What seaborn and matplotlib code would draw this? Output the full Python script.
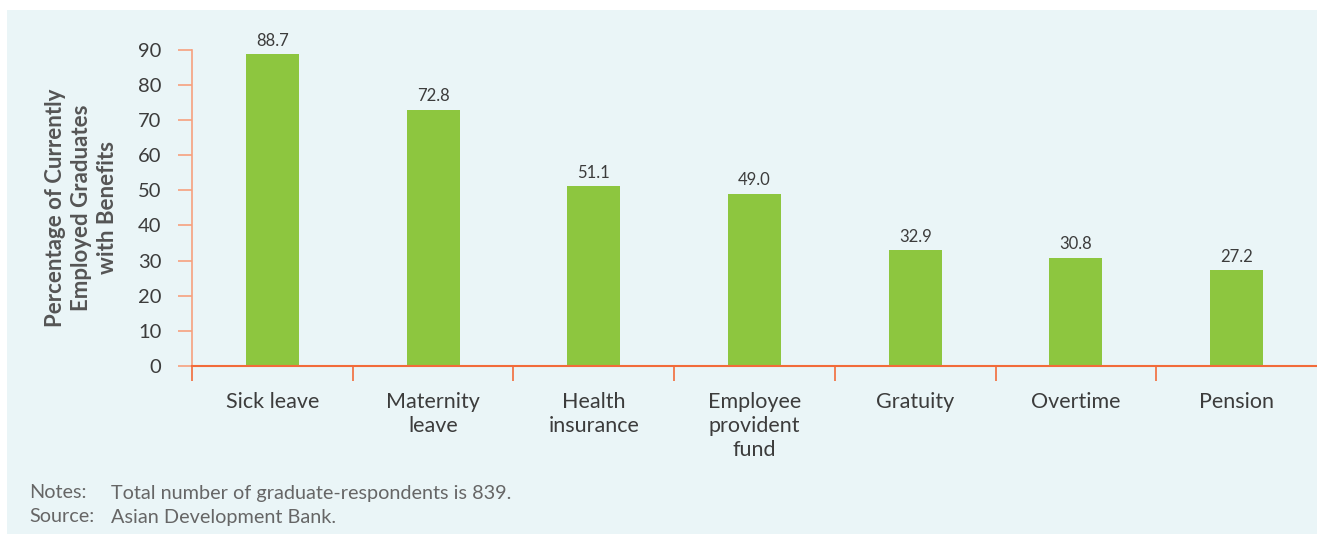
import matplotlib
matplotlib.use('Agg')
import matplotlib.pyplot as plt
import seaborn as sns
import pandas as pd
from matplotlib.patches import Rectangle
from matplotlib.ticker import FixedLocator

# data
benefits = ['Sick leave', 'Maternity\nleave', 'Health\ninsurance', 'Employee\nprovident\nfund',
            'Gratuity', 'Overtime', 'Pension']
pct = [88.7, 72.8, 51.1, 49.0, 32.9, 30.8, 27.2]
yticks = [0, 10, 20, 30, 40, 50, 60, 70, 80, 90]

df = pd.DataFrame({'Benefit': benefits, 'Percent': pct})

sns.set_style('white')
plt.rcParams['font.family'] = ['Lato', 'DejaVu Sans']

panel_col = '#EAF5F7'
text_col = '#3C3C3C'

fig = plt.figure(figsize=(13.17, 5.34), dpi=100)
fig.patches.append(Rectangle((7 / 1317, 0), 1, 1 - 10 / 534, transform=fig.transFigure,
                             facecolor=panel_col, edgecolor='none', zorder=-5))

ax = fig.add_axes([192 / 1317, 1 - 366 / 534, 1 - 192 / 1317, (366 - 49.5) / 534])
ax.set_facecolor('none')
sns.barplot(data=df, x='Benefit', y='Percent', color='#8DC63F', width=0.33,
            saturation=1, linewidth=0, edgecolor='none', ax=ax)

for c in ax.containers:
    ax.bar_label(c, labels=['%.1f' % v for v in pct], padding=4, fontsize=12, color=text_col)

ax.set_ylim(0, 90)
ax.set_xlim(-0.5, 6.5)
ax.set_yticks(yticks)
ax.tick_params(axis='y', left=True, length=10, width=1.2, color='#F7A07E', pad=12,
               labelsize=14.5, labelcolor=text_col)
ax.xaxis.set_minor_locator(FixedLocator([i - 0.5 for i in range(7)]))
ax.tick_params(axis='x', which='major', bottom=True, length=0, pad=19, labelsize=15.5,
               labelcolor=text_col)
ax.tick_params(axis='x', which='minor', bottom=True, length=11, width=1.2, color='#F26B3A')
for lbl in ax.get_xticklabels():
    lbl.set_linespacing(1.25)
    lbl.set_va('top')

for s in ['top', 'right']:
    ax.spines[s].set_visible(False)
ax.spines['left'].set_color('#F7A07E')
ax.spines['left'].set_linewidth(1.2)
ax.spines['bottom'].set_color('#F26B3A')
ax.spines['bottom'].set_linewidth(1.5)

ax.set_xlabel('')
ax.set_ylabel('Percentage of Currently\nEmployed Graduates\nwith Benefits', fontsize=16,
              fontweight='bold', color='#555555', linespacing=1.3, labelpad=14)

note_kw = dict(fontsize=14.3, color='#666666', va='center')
fig.text(29 / 1317, 1 - 493 / 534, 'Notes:', **note_kw)
fig.text(111 / 1317, 1 - 493 / 534, 'Total number of graduate-respondents is 839.', **note_kw)
fig.text(29 / 1317, 1 - 517 / 534, 'Source:', **note_kw)
fig.text(111 / 1317, 1 - 517 / 534, 'Asian Development Bank.', **note_kw)

fig.savefig('out.png', dpi=100, facecolor='white')
